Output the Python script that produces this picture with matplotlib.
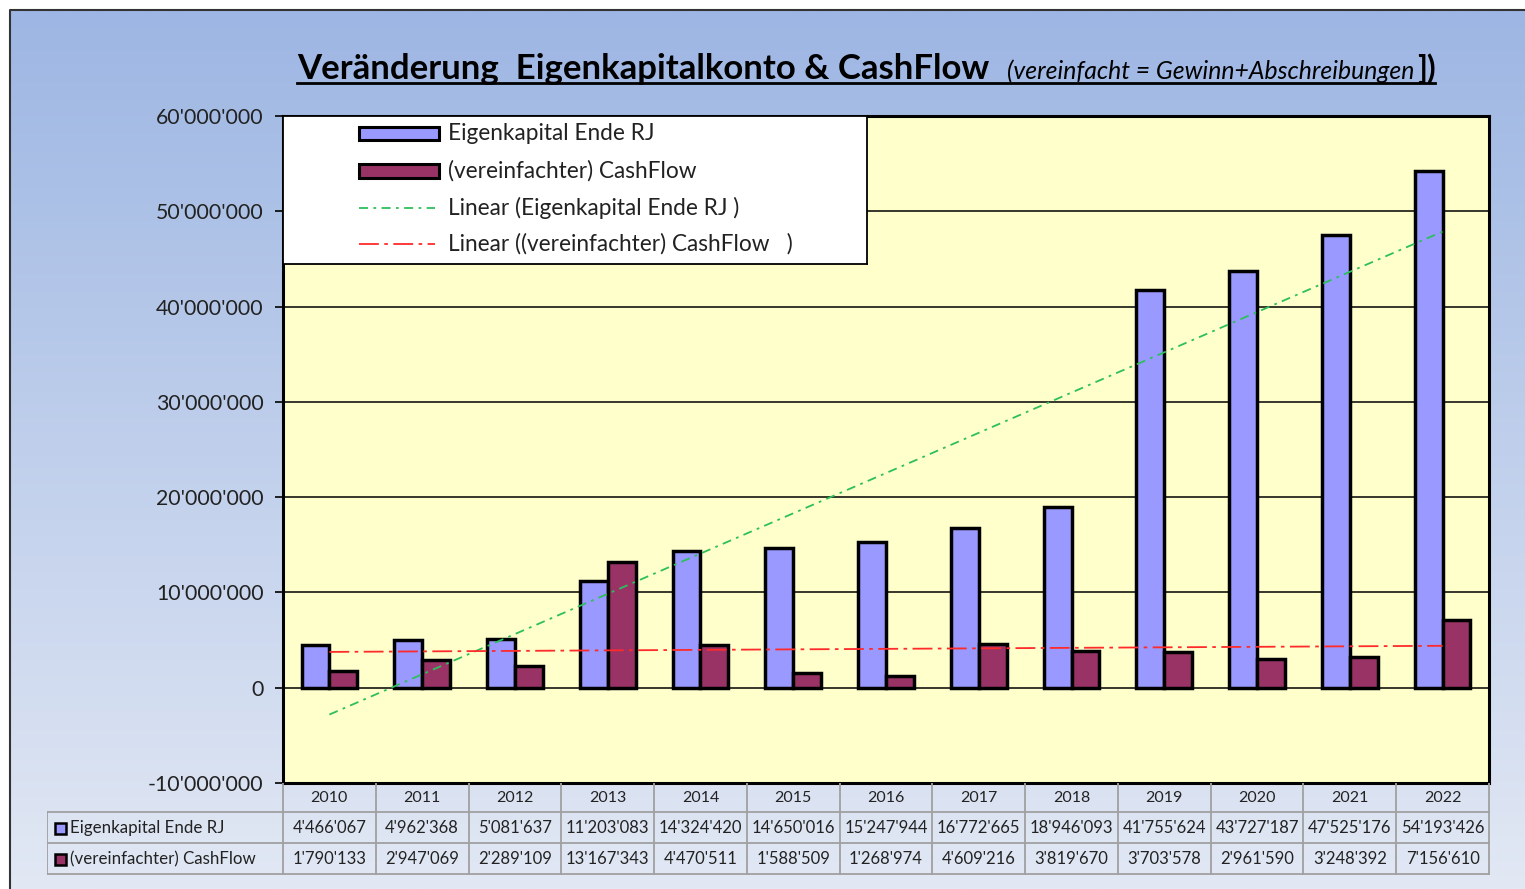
import numpy as np
import matplotlib
matplotlib.use('Agg')
import matplotlib.pyplot as plt
from matplotlib.patches import Rectangle
from matplotlib.lines import Line2D

plt.rcParams['font.family'] = ['Lato', 'DejaVu Sans']

# ---------------- data ----------------
years = ['2010', '2011', '2012', '2013', '2014', '2015', '2016',
         '2017', '2018', '2019', '2020', '2021', '2022']
eigenkapital = [4466067, 4962368, 5081637, 11203083, 14324420, 14650016, 15247944,
                16772665, 18946093, 41755624, 43727187, 47525176, 54193426]
cashflow = [1790133, 2947069, 2289109, 13167343, 4470511, 1588509, 1268974,
            4609216, 3819670, 3703578, 2961590, 3248392, 7156610]
series_labels = ['Eigenkapital Ende RJ', '(vereinfachter) CashFlow']
trend_labels = ['Linear (Eigenkapital Ende RJ )', 'Linear ((vereinfachter) CashFlow   )']
y_ticks = [-10000000, 0, 10000000, 20000000, 30000000, 40000000, 50000000, 60000000]
title_main = 'Veränderung  Eigenkapitalkonto & CashFlow'
title_sub = '(vereinfacht = Gewinn+Abschreibungen'
title_end = '])'

C_BLUE = '#9999FF'
C_PURPLE = '#993366'
C_GREEN = '#2DBF5A'
C_RED = '#FF2A2A'


def fmt(v):
    return f"{v:,}".replace(',', "'")


W, H = 1525, 889
fig = plt.figure(figsize=(W / 100, H / 100), dpi=100)
fig.patch.set_facecolor('white')


def fx(px):
    return px / W


def fy(py):
    return 1 - py / H


# ---------------- background gradient ----------------
bg = fig.add_axes([fx(10), 0, 1 - fx(10), fy(10)], zorder=-10)
t = np.linspace(0, 1, 256)[:, None, None]
top = np.array([157, 182, 227]) / 255
bot = np.array([226, 232, 244]) / 255
img = top + (bot - top) * t
bg.imshow(img, aspect='auto', extent=[0, 1, 0, 1], interpolation='bilinear')
bg.set_axis_off()
fig.add_artist(Line2D([fx(10), fx(10), 1], [0, fy(10), fy(10)],
                      transform=fig.transFigure, color='#333333', lw=1.5))

# ---------------- main axes ----------------
ax = fig.add_axes([fx(283), fy(783), fx(1489) - fx(283), fy(116) - fy(783)])
ax.set_facecolor('#FFFFCC')
x = np.arange(len(years))
ax.set_xlim(-0.5, len(years) - 0.5)
ax.set_ylim(-10000000, 60000000)

ax.bar(x - 0.3, eigenkapital, 0.3, align='edge', color=C_BLUE,
       edgecolor='black', linewidth=2.5, zorder=3)
ax.bar(x, cashflow, 0.3, align='edge', color=C_PURPLE,
       edgecolor='black', linewidth=2.5, zorder=3)

# linear trend lines (least-squares fit of the series)
pe = np.polyfit(x, eigenkapital, 1)
pc = np.polyfit(x, cashflow, 1)
xe = np.array([0, len(years) - 1])
ax.plot(xe, np.polyval(pe, xe), color=C_GREEN, lw=1.3, dashes=[5, 3, 1.5, 3], zorder=4)
ax.plot(xe, np.polyval(pc, xe), color=C_RED, lw=1.3, dashes=[11, 3, 2, 3], zorder=4)

ax.set_yticks(y_ticks)
ax.set_yticklabels([fmt(v) for v in y_ticks], fontsize=15.3, color='#222222')
ax.yaxis.grid(True, color='black', lw=1.1)
ax.set_axisbelow(True)
ax.set_xticks([])
ax.tick_params(axis='y', length=6, width=1.2, direction='out', pad=8)
for s in ax.spines.values():
    s.set_linewidth(2.2)
    s.set_color('black')

# ---------------- legend (box in pixel coords) ----------------
lax = fig.add_axes([fx(283), fy(264), fx(867) - fx(283), fy(116) - fy(264)], zorder=5)
lax.set_xlim(283, 867)
lax.set_ylim(264, 116)
lax.set_facecolor('white')
lax.set_xticks([])
lax.set_yticks([])
for s in lax.spines.values():
    s.set_linewidth(1.3)
    s.set_color('black')
lax.add_patch(Rectangle((359, 127), 80, 13, facecolor=C_BLUE, edgecolor='black', lw=2.2))
lax.add_patch(Rectangle((359, 164), 80, 14, facecolor=C_PURPLE, edgecolor='black', lw=2.2))
lax.plot([359, 435], [208, 208], color=C_GREEN, lw=1.3, dashes=[5, 3, 1.5, 3])
lax.plot([359, 435], [244, 244], color=C_RED, lw=1.3, dashes=[11, 3, 2, 3])
for lbl, yy in zip(series_labels + trend_labels, [133, 171, 208, 244]):
    lax.text(448, yy, lbl, fontsize=16.3, va='center', ha='left', color='#222222')

# ---------------- data table ----------------
tax = fig.add_axes([fx(47), fy(875), fx(1490) - fx(47), fy(783) - fy(875)], zorder=2)
tax.set_xlim(47, 1490)
tax.set_ylim(875, 783)
tax.set_axis_off()
gcol = '#A0A0A0'
cw = (1489 - 283) / len(years)
for i in range(len(years) + 1):
    xx = 283 + i * cw
    tax.plot([xx, xx], [783, 874], color=gcol, lw=1.3)
tax.plot([47, 47], [812, 874], color=gcol, lw=1.3)
for yy in [812, 843, 874]:
    tax.plot([47, 1489], [yy, yy], color=gcol, lw=1.3)
for i, yr in enumerate(years):
    cx = 283 + (i + 0.5) * cw
    tax.text(cx, 798, yr, ha='center', va='center', fontsize=11.5, color='#222222')
    tax.text(cx, 828, fmt(eigenkapital[i]), ha='center', va='center', fontsize=12, color='#222222')
    tax.text(cx, 859, fmt(cashflow[i]), ha='center', va='center', fontsize=12, color='#222222')
for lbl, col, yy in zip(series_labels, [C_BLUE, C_PURPLE], [828, 859]):
    tax.add_patch(Rectangle((55, yy - 5.5), 11, 11, facecolor=col, edgecolor='black', lw=1.8))
    tax.text(70, yy, lbl, ha='left', va='center', fontsize=12.2, color='#222222')

# ---------------- title with underline ----------------
r = fig.canvas.get_renderer()
base = fy(79)
t1 = fig.text(fx(297), base, title_main, fontsize=25, fontweight='bold',
              va='baseline', ha='left', color='black')
b1 = t1.get_window_extent(r)
t2 = fig.text((b1.x1 + 18) / W, base, title_sub, fontsize=17.8, fontstyle='italic',
              va='baseline', ha='left', color='black')
b2 = t2.get_window_extent(r)
t3 = fig.text((b2.x1 + 2) / W, base, title_end, fontsize=23, fontweight='bold',
              va='baseline', ha='left', color='black')
b3 = t3.get_window_extent(r)
fig.add_artist(Line2D([fx(297), b3.x1 / W], [fy(83), fy(83)],
                      transform=fig.transFigure, color='black', lw=2))

fig.savefig('out.png', dpi=100, facecolor=fig.get_facecolor())
